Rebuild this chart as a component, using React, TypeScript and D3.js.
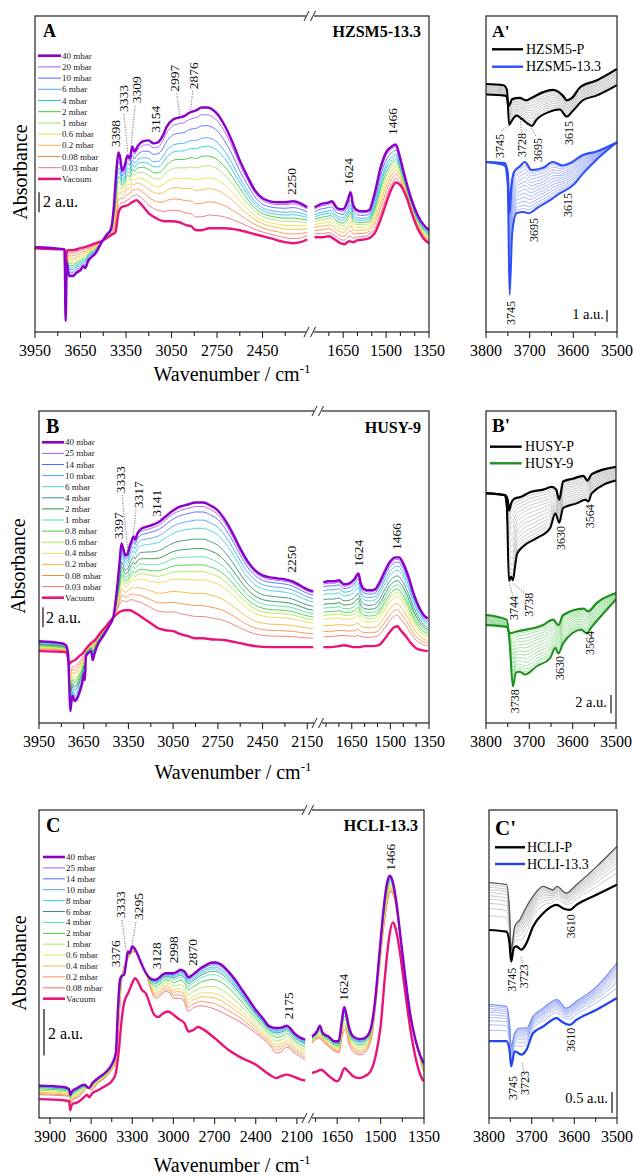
import React from "react";
import * as d3 from "d3";

type Pt = [number, number];

// ================= DATA =================
// ---- Panel A (HZSM5-13.3) ----
const A_LABELS = ["40 mbar", "20 mbar", "10 mbar", "6 mbar", "4 mbar", "2 mbar", "1 mbar", "0.6 mbar", "0.2 mbar", "0.08 mbar", "0.03 mbar", "Vacuum"];
const A_COLORS = ["#8a00c8", "#a65cf2", "#4f68ff", "#4aa6ff", "#22cde0", "#3cc83c", "#a8e070", "#eee040", "#f5b845", "#f5904a", "#f27272", "#e8147a"];
const A_FRACTIONS = [0.94, 0.85, 0.75, 0.68, 0.6, 0.52, 0.42, 0.33, 0.22, 0.11];
const A_VAC_L: Pt[] = [[3950,8.4],[3763,8.3],[3755,8.3],[3748,4.9],[3742,7.9],[3735,8.2],[3700,8.2],[3650,8.4],[3600,8.6],[3550,8.9],[3500,9.2],[3450,9.7],[3420,10.0],[3400,11.9],[3380,12.5],[3340,12.7],[3300,13.1],[3280,13.2],[3250,12.8],[3200,11.9],[3150,11.4],[3100,11.1],[3050,11.1],[3000,11.0],[2950,10.7],[2920,10.6],[2890,10.2],[2850,10.2],[2800,10.4],[2700,10.4],[2600,10.2],[2500,9.8],[2400,9.4],[2300,9.0],[2250,8.9],[2200,9.0],[2155,9.3]];
const A_TOP_L: Pt[] = [[3950,8.5],[3763,8.3],[3755,8.2],[3748,1.1],[3740,6.9],[3725,5.6],[3700,5.6],[3680,5.9],[3650,6.2],[3630,6.6],[3620,6.4],[3600,7.1],[3550,7.9],[3510,9.0],[3480,9.7],[3450,10.3],[3430,12.6],[3415,15.9],[3400,18.0],[3390,17.6],[3375,16.2],[3360,16.6],[3340,17.7],[3325,17.4],[3309,18.6],[3295,18.1],[3270,18.7],[3240,19.1],[3200,19.2],[3170,18.9],[3140,19.0],[3110,19.6],[3080,20.6],[3040,21.3],[3000,21.5],[2970,21.6],[2930,22.0],[2890,22.2],[2850,22.5],[2810,22.5],[2780,22.3],[2740,21.7],[2700,20.7],[2650,19.1],[2600,17.2],[2550,15.6],[2500,14.2],[2450,13.4],[2400,13.1],[2350,13.0],[2300,13.0],[2250,13.1],[2200,12.9],[2155,12.5]];
const A_VAC_R: Pt[] = [[1750,9.5],[1720,9.5],[1700,9.6],[1680,9.3],[1660,8.9],[1645,8.8],[1630,9.1],[1615,9.0],[1600,9.2],[1570,9.3],[1540,9.9],[1520,11.2],[1500,12.9],[1480,14.4],[1466,15.0],[1450,14.7],[1430,13.6],[1410,11.9],[1390,10.4],[1370,9.4],[1350,8.9]];
const A_TOP_R: Pt[] = [[1750,12.5],[1730,12.8],[1700,13.0],[1690,13.1],[1670,12.4],[1650,12.3],[1635,13.1],[1624,14.0],[1615,12.7],[1600,12.2],[1580,12.1],[1560,12.2],[1540,13.9],[1520,16.4],[1500,18.0],[1480,18.6],[1466,18.8],[1455,17.9],[1440,16.2],[1420,14.1],[1400,12.4],[1380,11.2],[1350,10.2]];

// ---- Panel B (HUSY-9) ----
const B_LABELS = ["40 mbar", "25 mbar", "14 mbar", "10 mbar", "6 mbar", "4 mbar", "2 mbar", "1 mbar", "0.8 mbar", "0.6 mbar", "0.4 mbar", "0.2 mbar", "0.08 mbar", "0.03 mbar", "Vacuum"];
const B_COLORS = ["#8a00c8", "#a65cf2", "#4f68ff", "#4aa6ff", "#40d6d6", "#3f8a88", "#2f8f3f", "#50e0a8", "#45d045", "#b0e850", "#e8dc50", "#f5b840", "#f59048", "#f27878", "#e8147a"];
const B_FRACTIONS = [0.97, 0.93, 0.87, 0.81, 0.73, 0.66, 0.6, 0.54, 0.49, 0.43, 0.33, 0.24, 0.16];
const B_VAC_L: Pt[] = [[3950,7.2],[3770,7.1],[3758,6.7],[3748,5.9],[3735,6.1],[3710,6.3],[3680,6.7],[3650,7.1],[3642,7.3],[3620,7.7],[3600,8.0],[3570,8.4],[3540,9.0],[3500,9.7],[3450,10.6],[3400,11.2],[3370,11.3],[3340,11.3],[3300,11.0],[3250,10.5],[3200,10.0],[3150,9.5],[3100,9.3],[3050,9.2],[3000,8.9],[2950,8.7],[2900,8.5],[2850,8.5],[2800,8.4],[2700,8.3],[2600,8.0],[2500,7.7],[2400,7.6],[2300,7.6],[2200,7.6],[2110,7.6]];
const B_TOP_L: Pt[] = [[3950,8.2],[3800,8.0],[3770,7.8],[3755,7.0],[3748,4.3],[3740,1.2],[3735,1.8],[3725,2.7],[3710,2.2],[3700,2.3],[3680,3.0],[3660,4.0],[3648,5.0],[3642,4.3],[3635,6.7],[3620,7.0],[3600,7.2],[3590,6.3],[3580,6.8],[3560,7.7],[3520,8.7],[3480,9.7],[3450,10.7],[3430,13.0],[3410,16.0],[3397,18.0],[3385,17.5],[3370,16.8],[3355,17.0],[3340,17.8],[3325,18.4],[3317,18.7],[3305,18.4],[3290,19.0],[3260,19.5],[3220,19.7],[3180,19.9],[3141,20.2],[3100,20.7],[3050,21.3],[3000,21.7],[2950,21.9],[2900,22.1],[2850,22.1],[2800,21.8],[2750,21.3],[2700,20.3],[2650,19.0],[2600,17.5],[2550,16.2],[2500,15.3],[2450,14.8],[2400,14.6],[2350,14.5],[2300,14.4],[2250,14.2],[2200,13.8],[2150,13.4],[2110,13.2]];
const B_VAC_R: Pt[] = [[1760,7.6],[1730,7.6],[1700,7.7],[1680,7.8],[1660,7.7],[1640,7.6],[1620,7.6],[1600,7.7],[1570,7.7],[1545,7.8],[1520,8.5],[1500,9.2],[1485,9.6],[1472,9.7],[1460,9.3],[1440,8.7],[1420,8.0],[1400,7.5],[1380,7.3],[1355,7.2]];
const B_TOP_R: Pt[] = [[1760,14.1],[1740,14.2],[1720,14.2],[1700,14.3],[1680,13.9],[1660,14.0],[1640,14.4],[1624,15.0],[1615,14.0],[1600,13.4],[1580,13.3],[1560,13.4],[1540,14.2],[1520,15.3],[1500,16.2],[1480,16.6],[1466,16.6],[1450,16.0],[1430,14.7],[1410,13.0],[1390,11.7],[1370,10.8],[1355,10.5]];

// ---- Panel C (HCLI-13.3) ----
const C_LABELS = ["40 mbar", "25 mbar", "14 mbar", "10 mbar", "8 mbar", "6 mbar", "4 mbar", "2 mbar", "1 mbar", "0.6 mbar", "0.4 mbar", "0.2 mbar", "0.08 mbar", "Vacuum"];
const C_COLORS = ["#8a00c8", "#a65cf2", "#4f68ff", "#4aa6ff", "#30d6d6", "#3f8a88", "#50e8b0", "#40c840", "#a8e850", "#e8dc58", "#f5b840", "#f59058", "#f06878", "#e8147a"];
const C_FRACTIONS = [0.98, 0.95, 0.9, 0.86, 0.81, 0.74, 0.63, 0.48, 0.34, 0.24, 0.12];
const C_VAC_L: Pt[] = [[3980,0.81],[3800,0.76],[3760,0.71],[3752,0.33],[3745,0.5],[3735,0.6],[3700,0.67],[3650,0.9],[3630,1.0],[3615,0.89],[3590,1.07],[3550,1.19],[3500,1.36],[3450,1.57],[3420,1.93],[3400,2.79],[3380,4.07],[3360,4.93],[3330,5.36],[3300,5.79],[3280,6.0],[3260,5.86],[3230,5.5],[3200,5.33],[3170,4.86],[3140,4.43],[3110,4.33],[3080,4.47],[3040,4.57],[3000,4.43],[2960,4.24],[2920,4.07],[2890,3.71],[2860,3.76],[2820,3.9],[2780,3.79],[2700,3.43],[2600,2.93],[2500,2.57],[2400,2.29],[2300,1.86],[2250,1.71],[2210,1.81],[2175,1.86],[2130,1.79],[2080,1.67],[2040,1.61]];
const C_LOW_L: Pt[] = [[3980,1.0],[3760,0.93],[3750,0.64],[3730,0.79],[3700,0.86],[3620,1.29],[3600,1.19],[3550,1.5],[3500,1.71],[3450,2.07],[3420,2.36],[3400,3.79],[3380,5.79],[3360,6.5],[3330,6.86],[3300,7.1],[3280,7.14],[3250,6.86],[3200,6.21],[3160,5.43],[3130,5.14],[3100,5.21],[3060,5.43],[3030,5.39],[3000,5.14],[2960,5.14],[2930,5.07],[2890,4.57],[2860,4.71],[2800,4.81],[2700,4.67],[2600,4.39],[2500,4.07],[2400,3.64],[2300,3.14],[2250,2.79],[2210,2.86],[2175,3.04],[2130,2.86],[2080,2.64],[2040,2.5]];
const C_TOP_L: Pt[] = [[3980,1.39],[3800,1.33],[3760,1.24],[3752,1.0],[3740,1.14],[3700,1.29],[3650,1.43],[3615,1.29],[3590,1.5],[3550,1.71],[3500,1.93],[3450,2.29],[3420,2.79],[3405,4.64],[3390,5.93],[3376,6.1],[3360,6.14],[3345,6.64],[3333,7.14],[3320,7.07],[3300,7.36],[3285,7.29],[3260,7.0],[3230,6.57],[3200,6.21],[3160,5.96],[3130,5.93],[3100,6.04],[3060,6.21],[3030,6.21],[3000,6.21],[2970,6.29],[2950,6.36],[2920,6.29],[2890,6.04],[2870,6.1],[2840,6.24],[2800,6.43],[2760,6.57],[2720,6.67],[2690,6.67],[2650,6.57],[2600,6.29],[2550,5.93],[2500,5.5],[2450,5.07],[2400,4.64],[2350,4.29],[2300,3.93],[2250,3.86],[2200,3.9],[2175,3.96],[2150,3.86],[2120,3.64],[2080,3.46],[2040,3.36]];
const C_VAC_R: Pt[] = [[1737,1.93],[1720,2.0],[1705,2.07],[1690,1.93],[1670,1.71],[1650,1.57],[1640,1.71],[1625,2.14],[1612,2.0],[1595,1.79],[1575,1.71],[1555,1.79],[1535,2.0],[1515,2.79],[1500,3.93],[1485,6.07],[1470,7.79],[1458,8.39],[1450,8.21],[1440,7.64],[1425,6.36],[1410,4.93],[1395,3.64],[1380,2.64],[1365,1.93],[1352,1.57]];
const C_LOW_R: Pt[] = [[1737,3.21],[1715,3.43],[1700,3.29],[1680,3.07],[1660,2.86],[1645,2.79],[1630,3.64],[1620,3.79],[1610,3.21],[1590,2.79],[1570,2.71],[1550,2.86],[1530,3.5],[1510,5.64],[1490,8.07],[1475,9.36],[1466,9.71],[1455,9.5],[1440,8.5],[1420,6.4],[1400,4.5],[1380,3.4],[1365,2.6],[1352,2.0]];
const C_TOP_R: Pt[] = [[1737,3.5],[1720,3.71],[1710,3.96],[1700,3.64],[1680,3.5],[1660,3.29],[1645,3.29],[1635,4.07],[1626,4.76],[1618,4.43],[1610,3.93],[1595,3.5],[1575,3.39],[1555,3.43],[1535,3.79],[1520,4.93],[1505,6.93],[1490,8.93],[1478,10.07],[1468,10.39],[1458,10.14],[1445,9.21],[1430,7.64],[1415,6.07],[1400,4.64],[1385,3.64],[1370,2.93],[1352,2.36]];

// ---- Side panel A' ----
const AP_LEGEND = ["HZSM5-P", "HZSM5-13.3"];
const AP_BLK_VAC: Pt[] = [[3800,20.4],[3757,20.3],[3752,20.2],[3749,19.4],[3745,19.6],[3740,20.0],[3723,20.1],[3708,19.9],[3696,20.1],[3669,20.6],[3647,20.8],[3624,20.3],[3615,19.9],[3603,20.1],[3585,21.0],[3547,21.6],[3500,22.6]];
const AP_BLK_HI: Pt[] = [[3800,21.3],[3760,21.2],[3752,20.8],[3747,17.8],[3740,18.2],[3730,18.6],[3718,18.3],[3705,17.9],[3695,17.7],[3685,18.2],[3655,18.9],[3631,19.1],[3615,18.5],[3601,19.0],[3578,19.9],[3547,20.3],[3500,21.2]];
const AP_BLU_VAC: Pt[] = [[3800,14.6],[3757,14.5],[3750,13.6],[3746,10.2],[3742,12.5],[3735,13.8],[3723,14.2],[3711,14.6],[3696,13.9],[3669,14.1],[3647,14.6],[3624,14.3],[3608,14.5],[3578,15.2],[3547,15.5],[3500,16.3]];
const AP_BLU_HI: Pt[] = [[3800,14.6],[3757,14.3],[3750,12.5],[3746,3.2],[3740,8.5],[3730,10.2],[3715,10.3],[3701,10.2],[3685,10.6],[3654,11.3],[3631,11.9],[3612,12.3],[3601,12.6],[3578,13.6],[3547,14.8],[3500,16.3]];
const AP_BLK_FRAC = [0.08, 0.17, 0.26, 0.35, 0.45, 0.55, 0.65, 0.75, 0.85, 0.93];
const AP_BLU_FRAC = [0.07, 0.14, 0.22, 0.3, 0.38, 0.46, 0.54, 0.62, 0.7, 0.78, 0.86, 0.93];

// ---- Side panel B' ----
const BP_LEGEND = ["HUSY-P", "HUSY-9"];
const BP_BLK_VAC: Pt[] = [[3800,25.1],[3756,24.9],[3750,24.4],[3747,23.2],[3742,24.0],[3735,24.5],[3720,24.7],[3700,25.2],[3668,25.5],[3648,25.8],[3638,25.5],[3631,24.4],[3622,26.4],[3600,26.7],[3575,27.0],[3566,26.5],[3556,27.2],[3500,28.0]];
const BP_BLK_HI: Pt[] = [[3800,25.1],[3757,24.9],[3752,23.6],[3747,15.5],[3742,16.0],[3738,15.6],[3733,17.1],[3728,18.5],[3714,19.3],[3683,20.2],[3652,21.3],[3640,22.9],[3631,21.9],[3622,23.5],[3591,24.0],[3570,24.4],[3564,24.2],[3556,25.1],[3500,26.5]];
const BP_GRN_VAC: Pt[] = [[3800,10.7],[3752,10.5],[3745,9.8],[3729,10.0],[3668,10.7],[3645,11.3],[3633,10.7],[3622,11.8],[3575,12.5],[3564,12.2],[3545,13.1],[3500,14.2]];
const BP_GRN_HI: Pt[] = [[3800,11.8],[3752,11.3],[3745,8.4],[3738,4.0],[3731,5.5],[3722,5.6],[3710,5.3],[3683,6.2],[3652,7.1],[3640,8.2],[3633,7.6],[3622,8.7],[3580,10.2],[3568,9.8],[3556,10.5],[3500,13.5]];
const BP_FRAC = [0.06, 0.12, 0.19, 0.26, 0.33, 0.41, 0.49, 0.57, 0.65, 0.73, 0.81, 0.88, 0.94];

// ---- Side panel C' ----
const CP_LEGEND = ["HCLI-P", "HCLI-13.3"];
const CP_BLK_VAC: Pt[] = [[3800,4.48],[3759,4.44],[3752,4.17],[3748,3.73],[3742,4.05],[3736,4.09],[3724,4.01],[3712,4.17],[3697,4.56],[3673,4.88],[3641,5.08],[3627,5.0],[3611,4.96],[3595,5.08],[3548,5.32],[3500,5.56]];
const CP_BLK_HI: Pt[] = [[3800,5.61],[3759,5.56],[3752,4.96],[3748,4.0],[3740,4.56],[3728,4.72],[3716,4.96],[3697,5.28],[3673,5.52],[3650,5.44],[3641,5.52],[3619,5.36],[3595,5.56],[3548,5.99],[3500,6.47]];
const CP_BLU_VAC: Pt[] = [[3800,1.83],[3759,1.83],[3752,1.63],[3748,1.23],[3740,1.59],[3724,1.51],[3712,1.63],[3697,2.02],[3673,2.18],[3641,2.38],[3630,2.3],[3611,2.22],[3595,2.34],[3548,2.58],[3500,2.86]];
const CP_BLU_HI: Pt[] = [[3800,2.7],[3759,2.66],[3752,2.26],[3748,1.71],[3740,2.02],[3728,2.14],[3712,2.14],[3697,2.42],[3673,2.62],[3641,2.82],[3619,2.62],[3595,2.78],[3548,3.13],[3500,3.69]];
const CP_FRAC = [0.3, 0.45, 0.56, 0.65, 0.72, 0.79, 0.85, 0.9, 0.95];

// ================= HELPERS =================
const FONT = "'Liberation Serif', 'Times New Roman', serif";

function interp(c: Pt[], w: number): number {
  if (w >= c[0][0]) return c[0][1];
  const n = c.length;
  if (w <= c[n - 1][0]) return c[n - 1][1];
  for (let i = 0; i < n - 1; i++) {
    const [w0, v0] = c[i];
    const [w1, v1] = c[i + 1];
    if (w <= w0 && w >= w1) {
      const t = (w0 - w) / (w0 - w1);
      return v0 + t * (v1 - v0);
    }
  }
  return c[n - 1][1];
}
function blend(a: Pt[], b: Pt[], f: number): Pt[] {
  const ws = Array.from(new Set([...a.map((p) => p[0]), ...b.map((p) => p[0])])).sort((x, y) => y - x);
  return ws.map((w) => {
    const va = interp(a, w);
    return [w, va + f * (interp(b, w) - va)] as Pt;
  });
}

interface Series { label: string; color: string; width: number; l: Pt[]; r: Pt[]; }

function buildTwoEnvelope(labels: string[], colors: string[], fr: number[], vacL: Pt[], vacR: Pt[], topL: Pt[], topR: Pt[]): Series[] {
  const n = labels.length;
  return labels.map((lab, i) => {
    let l: Pt[], r: Pt[];
    if (i === 0) { l = topL; r = topR; }
    else if (i === n - 1) { l = vacL; r = vacR; }
    else { l = blend(vacL, topL, fr[i - 1]); r = blend(vacR, topR, fr[i - 1]); }
    return { label: lab, color: colors[i], width: i === 0 || i === n - 1 ? 2.4 : 0.9, l, r };
  });
}

function buildThreeEnvelope(labels: string[], colors: string[], fr: number[], vacL: Pt[], vacR: Pt[], lowL: Pt[], lowR: Pt[], topL: Pt[], topR: Pt[]): Series[] {
  const n = labels.length;
  return labels.map((lab, i) => {
    let l: Pt[], r: Pt[];
    if (i === 0) { l = topL; r = topR; }
    else if (i === n - 1) { l = vacL; r = vacR; }
    else if (i === n - 2) { l = lowL; r = lowR; }
    else { l = blend(lowL, topL, fr[i - 1]); r = blend(lowR, topR, fr[i - 1]); }
    return { label: lab, color: colors[i], width: i === 0 || i === n - 1 ? 2.4 : 0.9, l, r };
  });
}

interface Ann { t: string; x: number; y: number; }

function RotText({ a, fs }: { a: Ann; fs: number }) {
  return (
    <text transform={`translate(${a.x + fs * 0.35},${a.y}) rotate(-90)`} fontSize={fs} fontFamily={FONT} fill="#111">
      {a.t}
    </text>
  );
}

function Leader({ l }: { l: number[] }) {
  return <line x1={l[0]} y1={l[1]} x2={l[2]} y2={l[3]} stroke="#555" strokeWidth={0.8} strokeDasharray="1.2,1.4" />;
}

interface MainCfg {
  box: { left: number; right: number; top: number; bottom: number; brk: number };
  lDom: [number, number]; rDom: [number, number]; yMax: number;
  lTicks: number[]; lLabels: number[]; rTicks: number[]; rLabels: number[];
  tickBase: number; titleY: number; titleX: number; absX: number; absY: number;
  series: Series[];
  legend: { x0: number; x1: number; tx: number; y0: number; dy: number };
  letter: { t: string; x: number; y: number; size: number };
  name: { t: string; x: number; y: number };
  scale: { x: number; top: number; len: number; label: string; tx: number; ty: number };
  ann: Ann[]; leaders: number[][];
}

function MainPanel({ cfg }: { cfg: MainCfg }) {
  const { box } = cfg;
  const xl = d3.scaleLinear().domain(cfg.lDom).range([box.left, box.brk]);
  const xr = d3.scaleLinear().domain(cfg.rDom).range([box.brk, box.right]);
  const y = d3.scaleLinear().domain([0, cfg.yMax]).range([box.bottom, box.top]);
  const mk = (xs: d3.ScaleLinear<number, number>) =>
    d3.line<Pt>().x((d) => xs(d[0])).y((d) => y(d[1])).curve(d3.curveMonotoneX);
  const lineL = mk(xl);
  const lineR = mk(xr);
  const n = cfg.series.length;
  const order: number[] = [];
  for (let i = n - 2; i >= 1; i--) order.push(i);
  order.push(n - 1, 0);
  const brk = box.brk;
  const tickEls: React.ReactNode[] = [];
  cfg.lTicks.forEach((t, i) => {
    const x = xl(t);
    if (Math.abs(x - brk) < 5) return;
    const major = cfg.lLabels.includes(t);
    tickEls.push(<line key={"lt" + i} x1={x} x2={x} y1={box.bottom} y2={box.bottom + (major ? 6 : 4)} stroke="#222" strokeWidth={1.1} />);
    if (major) tickEls.push(<text key={"ll" + i} x={x} y={cfg.tickBase} fontSize={16} fontFamily={FONT} textAnchor="middle">{t}</text>);
  });
  cfg.rTicks.forEach((t, i) => {
    const x = xr(t);
    if (Math.abs(x - brk) < 5) return;
    const major = cfg.rLabels.includes(t);
    tickEls.push(<line key={"rt" + i} x1={x} x2={x} y1={box.bottom} y2={box.bottom + (major ? 6 : 4)} stroke="#222" strokeWidth={1.1} />);
    if (major) tickEls.push(<text key={"rl" + i} x={x} y={cfg.tickBase} fontSize={16} fontFamily={FONT} textAnchor="middle">{t}</text>);
  });
  const breakMark = (yy: number, k: string) => (
    <g key={k}>
      <rect x={brk - 4} y={yy - 3} width={8} height={6} fill="#fff" />
      <line x1={brk - 6} y1={yy + 5} x2={brk - 1} y2={yy - 5} stroke="#222" strokeWidth={1} />
      <line x1={brk + 0.5} y1={yy + 5} x2={brk + 5.5} y2={yy - 5} stroke="#222" strokeWidth={1} />
    </g>
  );
  return (
    <g>
      {order.map((i) => {
        const s = cfg.series[i];
        return (
          <g key={"s" + i}>
            <path d={lineL(s.l) || ""} fill="none" stroke={s.color} strokeWidth={s.width} strokeLinejoin="round" />
            <path d={lineR(s.r) || ""} fill="none" stroke={s.color} strokeWidth={s.width} strokeLinejoin="round" />
          </g>
        );
      })}
      <rect x={box.left} y={box.top} width={box.right - box.left} height={box.bottom - box.top} fill="none" stroke="#222" strokeWidth={1.2} />
      {breakMark(box.top, "bt")}
      {breakMark(box.bottom, "bb")}
      {tickEls}
      <text x={cfg.titleX} y={cfg.titleY} fontSize={20} fontFamily={FONT} textAnchor="middle">
        Wavenumber / cm<tspan dy={-8} fontSize={13}>-1</tspan>
      </text>
      <text transform={`translate(${cfg.absX + 7},${cfg.absY}) rotate(-90)`} fontSize={20} fontFamily={FONT} textAnchor="middle">Absorbance</text>
      {cfg.series.map((s, i) => {
        const yy = cfg.legend.y0 + i * cfg.legend.dy;
        return (
          <g key={"lg" + i}>
            <line x1={cfg.legend.x0} x2={cfg.legend.x1} y1={yy} y2={yy} stroke={s.color} strokeWidth={s.width > 1 ? 2.6 : 1} />
            <text x={cfg.legend.tx} y={yy + 3} fontSize={9} fontFamily={FONT} fill="#222">{s.label}</text>
          </g>
        );
      })}
      <text x={cfg.letter.x} y={cfg.letter.y} fontSize={cfg.letter.size} fontWeight="bold" fontFamily={FONT}>{cfg.letter.t}</text>
      <text x={cfg.name.x} y={cfg.name.y} fontSize={16} fontWeight="bold" fontFamily={FONT} textAnchor="end">{cfg.name.t}</text>
      <line x1={cfg.scale.x} x2={cfg.scale.x} y1={y(cfg.scale.top)} y2={y(cfg.scale.top - cfg.scale.len)} stroke="#222" strokeWidth={1.3} />
      <text x={cfg.scale.tx} y={cfg.scale.ty} fontSize={16} fontFamily={FONT}>{cfg.scale.label}</text>
      {cfg.leaders.map((l, i) => <Leader key={"ld" + i} l={l} />)}
      {cfg.ann.map((a, i) => <RotText key={"an" + i} a={a} fs={13.5} />)}
    </g>
  );
}

interface Group { vac: Pt[]; hi: Pt[]; frac: number[]; thin: string; thick: string; hiColor: string; hiWidth: number; }
interface SideCfg {
  box: { left: number; right: number; top: number; bottom: number };
  yMax: number; tickBase: number; groups: Group[];
  legend: { x0: number; x1: number; tx: number; ys: number[]; labels: string[] };
  letter: { t: string; x: number; y: number; size: number };
  scale: { x: number; top: number; len: number; label: string; tx: number; ty: number };
  ann: Ann[]; leaders: number[][];
}
const SIDE_TICKS = [3800, 3750, 3700, 3650, 3600, 3550, 3500];
const SIDE_LABELS = [3800, 3700, 3600, 3500];

function SidePanel({ cfg }: { cfg: SideCfg }) {
  const { box } = cfg;
  const x = d3.scaleLinear().domain([3800, 3500]).range([box.left, box.right]);
  const y = d3.scaleLinear().domain([0, cfg.yMax]).range([box.bottom, box.top]);
  const line = d3.line<Pt>().x((d) => x(d[0])).y((d) => y(d[1])).curve(d3.curveMonotoneX);
  return (
    <g>
      {cfg.groups.map((g, gi) => (
        <g key={"g" + gi}>
          {g.frac.map((f, i) => (
            <path key={"t" + i} d={line(blend(g.vac, g.hi, f)) || ""} fill="none" stroke={g.thin} strokeWidth={0.8} />
          ))}
          <path d={line(g.hi) || ""} fill="none" stroke={g.hiColor} strokeWidth={g.hiWidth} />
          <path d={line(g.vac) || ""} fill="none" stroke={g.thick} strokeWidth={2.2} />
        </g>
      ))}
      <rect x={box.left} y={box.top} width={box.right - box.left} height={box.bottom - box.top} fill="none" stroke="#222" strokeWidth={1.2} />
      {SIDE_TICKS.map((t) => {
        const major = SIDE_LABELS.includes(t);
        return (
          <g key={"tk" + t}>
            <line x1={x(t)} x2={x(t)} y1={box.bottom} y2={box.bottom + (major ? 6 : 4)} stroke="#222" strokeWidth={1.1} />
            {major && <text x={x(t)} y={cfg.tickBase} fontSize={16} fontFamily={FONT} textAnchor="middle">{t}</text>}
          </g>
        );
      })}
      {cfg.legend.labels.map((lab, i) => (
        <g key={"lg" + i}>
          <line x1={cfg.legend.x0} x2={cfg.legend.x1} y1={cfg.legend.ys[i]} y2={cfg.legend.ys[i]} stroke={cfg.groups[i].thick} strokeWidth={2.4} />
          <text x={cfg.legend.tx} y={cfg.legend.ys[i] + 4.5} fontSize={14} fontFamily={FONT}>{lab}</text>
        </g>
      ))}
      <text x={cfg.letter.x} y={cfg.letter.y} fontSize={cfg.letter.size} fontWeight="bold" fontFamily={FONT}>{cfg.letter.t}</text>
      <line x1={cfg.scale.x} x2={cfg.scale.x} y1={y(cfg.scale.top)} y2={y(cfg.scale.top - cfg.scale.len)} stroke="#222" strokeWidth={1.3} />
      <text x={cfg.scale.tx} y={cfg.scale.ty} fontSize={14.5} fontFamily={FONT} textAnchor="end">{cfg.scale.label}</text>
      {cfg.leaders.map((l, i) => <Leader key={"ld" + i} l={l} />)}
      {cfg.ann.map((a, i) => <RotText key={"an" + i} a={a} fs={12} />)}
    </g>
  );
}

// ================= LAYOUT =================
const A_CFG: MainCfg = {
  box: { left: 35, right: 429, top: 16, bottom: 332, brk: 310 },
  lDom: [3950, 2137], rDom: [1766, 1350], yMax: 31.67,
  lTicks: [3950, 3800, 3650, 3500, 3350, 3200, 3050, 2900, 2750, 2600, 2450, 2300],
  lLabels: [3950, 3650, 3350, 3050, 2750, 2450],
  rTicks: [1750, 1700, 1650, 1600, 1550, 1500, 1450, 1400, 1350],
  rLabels: [1650, 1500, 1350],
  tickBase: 356, titleY: 381, titleX: 232, absX: 20, absY: 172,
  series: buildTwoEnvelope(A_LABELS, A_COLORS, A_FRACTIONS, A_VAC_L, A_VAC_R, A_TOP_L, A_TOP_R),
  legend: { x0: 38, x1: 61, tx: 62, y0: 55.7, dy: 11.2 },
  letter: { t: "A", x: 43, y: 37, size: 18 },
  name: { t: "HZSM5-13.3", x: 421, y: 37 },
  scale: { x: 39, top: 14.0, len: 2, label: "2 a.u.", tx: 43, ty: 207 },
  ann: [
    { t: "3398", x: 115, y: 147 }, { t: "3333", x: 123.3, y: 112 }, { t: "3309", x: 136.7, y: 103.3 },
    { t: "3154", x: 155, y: 132.7 }, { t: "2997", x: 174, y: 91.7 }, { t: "2876", x: 193.3, y: 89.3 },
    { t: "2250", x: 291, y: 195 }, { t: "1624", x: 348.3, y: 185 }, { t: "1466", x: 392.7, y: 135 },
  ],
  leaders: [[124, 114, 127.7, 151.7], [135, 106, 131, 146.7], [176.7, 93.3, 180, 116.7], [192.7, 90.7, 190.7, 110]],
};

const B_CFG: MainCfg = {
  box: { left: 39, right: 429, top: 411, bottom: 723, brk: 318 },
  lDom: [3950, 2078], rDom: [1781, 1350], yMax: 31.27,
  lTicks: [3950, 3800, 3650, 3500, 3350, 3200, 3050, 2900, 2750, 2600, 2450, 2300, 2150],
  lLabels: [3950, 3650, 3350, 3050, 2750, 2450, 2150],
  rTicks: [1750, 1700, 1650, 1600, 1550, 1500, 1450, 1400, 1350],
  rLabels: [1650, 1500, 1350],
  tickBase: 747, titleY: 779, titleX: 233, absX: 18, absY: 566,
  series: buildTwoEnvelope(B_LABELS, B_COLORS, B_FRACTIONS, B_VAC_L, B_VAC_R, B_TOP_L, B_TOP_R),
  legend: { x0: 42, x1: 64, tx: 65, y0: 442.3, dy: 11.1 },
  letter: { t: "B", x: 46, y: 433, size: 20 },
  name: { t: "HUSY-9", x: 421, y: 433 },
  scale: { x: 43, top: 11.6, len: 2, label: "2 a.u.", tx: 46, ty: 623 },
  ann: [
    { t: "3397", x: 118.3, y: 539.3 }, { t: "3333", x: 120, y: 493.3 }, { t: "3317", x: 138.3, y: 508.3 },
    { t: "3141", x: 156, y: 516.7 }, { t: "2250", x: 291, y: 572.7 }, { t: "1624", x: 358.3, y: 566.7 },
    { t: "1466", x: 396.7, y: 550 },
  ],
  leaders: [[122, 495, 128.3, 555], [136, 510, 133.3, 535]],
};

const C_CFG: MainCfg = {
  box: { left: 39, right: 424, top: 810, bottom: 1118, brk: 308 },
  lDom: [3980, 2019], rDom: [1751, 1350], yMax: 13.21,
  lTicks: [3900, 3750, 3600, 3450, 3300, 3150, 3000, 2850, 2700, 2550, 2400, 2250, 2100],
  lLabels: [3900, 3600, 3300, 3000, 2700, 2400, 2100],
  rTicks: [1725, 1650, 1575, 1500, 1425, 1350],
  rLabels: [1650, 1500, 1350],
  tickBase: 1142, titleY: 1172, titleX: 232, absX: 19, absY: 963,
  series: buildThreeEnvelope(C_LABELS, C_COLORS, C_FRACTIONS, C_VAC_L, C_VAC_R, C_LOW_L, C_LOW_R, C_TOP_L, C_TOP_R),
  legend: { x0: 43, x1: 65, tx: 66, y0: 857, dy: 10.9 },
  letter: { t: "C", x: 46, y: 832, size: 20 },
  name: { t: "HCLI-13.3", x: 418, y: 831 },
  scale: { x: 44, top: 4.68, len: 2, label: "2 a.u.", tx: 48, ty: 1039 },
  ann: [
    { t: "3376", x: 115, y: 967.3 }, { t: "3333", x: 120.7, y: 918.3 }, { t: "3295", x: 138.3, y: 920 },
    { t: "3128", x: 156, y: 969.3 }, { t: "2998", x: 173.3, y: 963.3 }, { t: "2870", x: 192.7, y: 966 },
    { t: "2175", x: 288.3, y: 1019.3 }, { t: "1624", x: 343.3, y: 1000.7 }, { t: "1466", x: 390, y: 870.7 },
  ],
  leaders: [[122, 920, 126, 950], [136, 922, 131.7, 946]],
};

const AP_CFG: SideCfg = {
  box: { left: 486, right: 617, top: 16, bottom: 332 }, yMax: 27.14, tickBase: 356,
  groups: [
    { vac: AP_BLK_VAC, hi: AP_BLK_HI, frac: AP_BLK_FRAC, thin: "#b8b8b8", thick: "#000", hiColor: "#000", hiWidth: 2.0 },
    { vac: AP_BLU_VAC, hi: AP_BLU_HI, frac: AP_BLU_FRAC, thin: "#93a3f7", thick: "#2f4ff5", hiColor: "#2f4ff5", hiWidth: 2.0 },
  ],
  legend: { x0: 492, x1: 523, tx: 526, ys: [49.3, 66.7], labels: AP_LEGEND },
  letter: { t: "A'", x: 492, y: 37, size: 17.5 },
  scale: { x: 607, top: 1.89, len: 1, label: "1 a.u.", tx: 604, ty: 319 },
  ann: [
    { t: "3745", x: 500, y: 158 }, { t: "3728", x: 521.7, y: 157 }, { t: "3695", x: 537.7, y: 162 },
    { t: "3615", x: 569, y: 145 }, { t: "3615", x: 567.7, y: 217 }, { t: "3695", x: 533.3, y: 242 },
    { t: "3745", x: 511, y: 325 },
  ],
  leaders: [[501, 131, 508, 126], [521.5, 133, 520, 115], [536, 136, 530, 126]],
};

const BP_CFG: SideCfg = {
  box: { left: 486, right: 616, top: 411, bottom: 723 }, yMax: 34.1, tickBase: 747,
  groups: [
    { vac: BP_BLK_VAC, hi: BP_BLK_HI, frac: BP_FRAC, thin: "#bcbcbc", thick: "#000", hiColor: "#000", hiWidth: 2.0 },
    { vac: BP_GRN_VAC, hi: BP_GRN_HI, frac: BP_FRAC, thin: "#92d892", thick: "#1f8f1f", hiColor: "#1f8f1f", hiWidth: 2.0 },
  ],
  legend: { x0: 490, x1: 521.7, tx: 525, ys: [446.7, 463.3], labels: BP_LEGEND },
  letter: { t: "B'", x: 492, y: 431.7, size: 19 },
  scale: { x: 611, top: 3.06, len: 2, label: "2 a.u.", tx: 607, ty: 707 },
  ann: [
    { t: "3744", x: 513.3, y: 620 }, { t: "3738", x: 528.3, y: 616.7 }, { t: "3630", x: 560.7, y: 550 },
    { t: "3564", x: 590, y: 528.3 }, { t: "3630", x: 560, y: 680 }, { t: "3564", x: 590, y: 655 },
    { t: "3738", x: 514.3, y: 713.3 },
  ],
  leaders: [[513, 596, 509.3, 583], [526, 594, 512, 583]],
};

const CP_CFG: SideCfg = {
  box: { left: 489, right: 617, top: 810, bottom: 1118 }, yMax: 7.34, tickBase: 1142,
  groups: [
    { vac: CP_BLK_VAC, hi: CP_BLK_HI, frac: CP_FRAC, thin: "#bdbdbd", thick: "#000", hiColor: "#555", hiWidth: 1.3 },
    { vac: CP_BLU_VAC, hi: CP_BLU_HI, frac: CP_FRAC, thin: "#98a8f5", thick: "#2244ee", hiColor: "#7c8ff0", hiWidth: 1.2 },
  ],
  legend: { x0: 495, x1: 525, tx: 527, ys: [847.3, 864], labels: CP_LEGEND },
  letter: { t: "C'", x: 495, y: 835, size: 21 },
  scale: { x: 612, top: 0.62, len: 0.5, label: "0.5 a.u.", tx: 608, ty: 1103 },
  ann: [
    { t: "3745", x: 511.7, y: 991.7 }, { t: "3723", x: 523.3, y: 988.3 }, { t: "3610", x: 570.7, y: 938.3 },
    { t: "3745", x: 512.3, y: 1100 }, { t: "3723", x: 524.3, y: 1095 }, { t: "3610", x: 571, y: 1051.7 },
  ],
  leaders: [[523, 966, 521, 957], [524, 1072, 522, 1062]],
};

export default function App() {
  return (
    <svg width={634} height={1176} viewBox="0 0 634 1176" style={{ position: "absolute", left: 0, top: 0, background: "#fff" }}>
      <rect x={0} y={0} width={634} height={1176} fill="#fff" />
      <MainPanel cfg={A_CFG} />
      <MainPanel cfg={B_CFG} />
      <MainPanel cfg={C_CFG} />
      <SidePanel cfg={AP_CFG} />
      <SidePanel cfg={BP_CFG} />
      <SidePanel cfg={CP_CFG} />
    </svg>
  );
}
